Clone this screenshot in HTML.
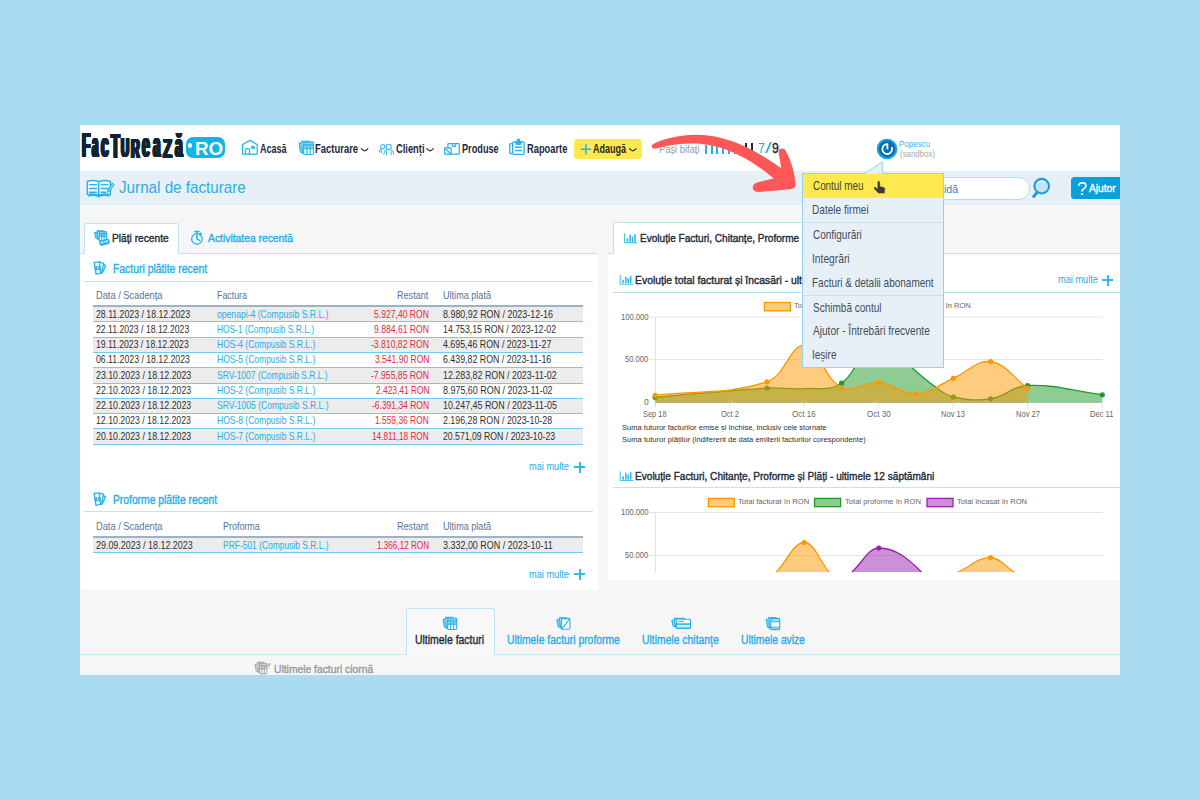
<!DOCTYPE html>
<html lang="ro"><head><meta charset="utf-8"><title>Facturează.ro - Jurnal de facturare</title>
<style>
html,body{margin:0;padding:0}
body{width:1200px;height:800px;background:#a9dcf1;overflow:hidden;position:relative;font-family:"Liberation Sans",sans-serif}
.app{position:absolute;left:80px;top:125px;width:1040px;height:550px;background:#f6f6f6;overflow:hidden}
.app div,.app span,.app svg,.app section,.app header,.app footer,.app nav,.app ul,.app li,.app a{position:absolute;box-sizing:border-box;margin:0;padding:0;list-style:none}
.app span,.ov span{white-space:nowrap;transform-origin:0 0;display:block;position:absolute}
svg{overflow:visible}
.m{-webkit-text-stroke:0.38px currentColor}
.ov{position:absolute;left:0;top:0;width:1200px;height:800px;pointer-events:none}
</style></head>
<body>
<div class="app">
<header style="left:0;top:0;width:0;height:0">
<div class="topbar" style="left:0.00px;top:0.00px;width:1040.00px;height:46.30px;background:#fff"></div>
<div style="left:0.00px;top:0.00px;width:1040.00px;height:1.00px;background:#fdf9d8"></div>
<div style="left:0.00px;top:46.30px;width:1040.00px;height:33.70px;background:#e8f0f7"></div>
<span style="left:179.57px;top:17.70px;font-size:12.0px;line-height:12.0px;font-weight:bold;color:#1c2b39;transform:scaleX(0.7523)">Acasă</span>
<span style="left:235.19px;top:17.70px;font-size:12.0px;line-height:12.0px;font-weight:bold;color:#1c2b39;transform:scaleX(0.7882)">Facturare</span>
<span style="left:315.93px;top:17.70px;font-size:12.0px;line-height:12.0px;font-weight:bold;color:#1c2b39;transform:scaleX(0.7774)">Clienți</span>
<span style="left:381.60px;top:17.70px;font-size:12.0px;line-height:12.0px;font-weight:bold;color:#1c2b39;transform:scaleX(0.7640)">Produse</span>
<span style="left:446.89px;top:17.70px;font-size:12.0px;line-height:12.0px;font-weight:bold;color:#1c2b39;transform:scaleX(0.7766)">Rapoarte</span>
<div style="left:493.70px;top:14.00px;width:68.50px;height:20.00px;background:#ffe94e;border-radius:3px"></div>
<span style="left:513.12px;top:17.70px;font-size:12.0px;line-height:12.0px;font-weight:bold;color:#2a2a1a;transform:scaleX(0.7522)">Adaugă</span>
<span style="left:579.45px;top:18.81px;font-size:10.71px;line-height:10.71px;font-weight:normal;color:#9298a0;transform:scaleX(0.8739)">Pași bifați</span>
<div style="left:624.95px;top:20.10px;width:1.90px;height:8.70px;background:#26afe7"></div>
<div style="left:630.69px;top:20.10px;width:1.90px;height:8.70px;background:#26afe7"></div>
<div style="left:636.43px;top:20.10px;width:1.90px;height:8.70px;background:#26afe7"></div>
<div style="left:642.17px;top:20.10px;width:1.90px;height:8.70px;background:#26afe7"></div>
<div style="left:647.91px;top:20.10px;width:1.90px;height:8.70px;background:#26afe7"></div>
<div style="left:653.65px;top:20.10px;width:1.90px;height:8.70px;background:#26afe7"></div>
<div style="left:659.39px;top:20.10px;width:1.90px;height:8.70px;background:#26afe7"></div>
<div style="left:665.13px;top:17.50px;width:1.90px;height:11.30px;background:#1c2b39"></div>
<div style="left:670.87px;top:17.50px;width:1.90px;height:11.30px;background:#1c2b39"></div>
<span style="left:678.48px;top:16.61px;font-size:13.86px;line-height:13.86px;font-weight:normal;color:#26afe7;transform:scaleX(0.8940)">7</span>
<span style="left:685.10px;top:16.61px;font-size:13.86px;line-height:13.86px;font-weight:normal;color:#26afe7;transform:scaleX(1.7522)">/</span>
<span class="m" style="left:692.05px;top:16.61px;font-size:13.86px;line-height:13.86px;font-weight:normal;color:#1c2b39;transform:scaleX(0.8844)">9</span>
<div style="left:797.00px;top:14.10px;width:19.40px;height:19.40px;border-radius:50%;background:radial-gradient(circle,#0a6fb0 0%,#0f8fd0 55%,#1aa3e0 100%)"></div>
<span style="left:819.36px;top:15.21px;font-size:9.14px;line-height:9.14px;font-weight:normal;color:#3ab5ea;transform:scaleX(0.8763)">Popescu</span>
<span style="left:819.53px;top:24.51px;font-size:9.14px;line-height:9.14px;font-weight:normal;color:#a9a9a9;transform:scaleX(0.8644)">(sandbox)</span>
</header>
<div class="titlebar" style="left:0;top:0;width:0;height:0">
<span style="left:38.77px;top:55.30px;font-size:16.57px;line-height:16.57px;font-weight:normal;color:#26afe7;transform:scaleX(0.9182)">Jurnal de facturare</span>
<div style="left:820.00px;top:52.20px;width:129.70px;height:22.50px;background:#fff;border:1px solid #b5dcf0;border-radius:0 11px 11px 0"></div>
<span style="left:864.02px;top:59.50px;font-size:10.0px;line-height:10.0px;font-weight:normal;color:#1b8ac4;transform:scaleX(1.0445)">idă</span>
<div style="left:990.80px;top:52.10px;width:60.00px;height:22.00px;background:#06a0db;border-radius:3.5px"></div>
<span style="left:997.17px;top:53.51px;font-size:19.14px;line-height:19.14px;font-weight:normal;color:#fff;transform:scaleX(0.9579)">?</span>
<span class="m" style="left:1009.20px;top:59.01px;font-size:10.43px;line-height:10.43px;font-weight:normal;color:#fff;transform:scaleX(0.9812)">Ajutor</span>
</div>
<section class="payments" style="left:0;top:0;width:0;height:0">
<div style="left:0.00px;top:128.30px;width:518.00px;height:336.90px;background:#fff"></div>
<div style="left:0.00px;top:127.80px;width:518.00px;height:1.00px;background:#bfe4f6"></div>
<div style="left:4.40px;top:97.80px;width:94.60px;height:31.00px;background:#fff;border:1px solid #bfe4f6;border-bottom:none;border-radius:3px 3px 0 0"></div>
<span class="m" style="left:31.78px;top:108.01px;font-size:11.0px;line-height:11.0px;font-weight:normal;color:#1c2b39;transform:scaleX(0.9262)">Plăți recente</span>
<span class="m" style="left:128.30px;top:108.01px;font-size:11.0px;line-height:11.0px;font-weight:normal;color:#26afe7;transform:scaleX(0.9389)">Activitatea recentă</span>
<span class="m" style="left:32.77px;top:137.70px;font-size:12.29px;line-height:12.29px;font-weight:normal;color:#26afe7;transform:scaleX(0.8457)">Facturi plătite recent</span>
<div style="left:4.40px;top:155.50px;width:508.20px;height:1.00px;background:#bfe4f6"></div>
<span style="left:15.86px;top:165.20px;font-size:10.71px;line-height:10.71px;font-weight:normal;color:#54749b;transform:scaleX(0.8659)">Data / Scadența</span>
<span style="left:137.00px;top:165.20px;font-size:10.71px;line-height:10.71px;font-weight:normal;color:#54749b;transform:scaleX(0.8227)">Factura</span>
<span style="left:317.17px;top:165.20px;font-size:10.71px;line-height:10.71px;font-weight:normal;color:#54749b;transform:scaleX(0.8495)">Restant</span>
<span style="left:362.52px;top:165.20px;font-size:10.71px;line-height:10.71px;font-weight:normal;color:#54749b;transform:scaleX(0.8497)">Ultima plată</span>
<div style="left:13.30px;top:180.20px;width:489.40px;height:1.60px;background:#9db2c9"></div>
<div style="left:13.30px;top:181.70px;width:489.40px;height:15.28px;background:#ececec"></div>
<span style="left:16.16px;top:183.51px;font-size:11.0px;line-height:11.0px;font-weight:normal;color:#2f2f2f;transform:scaleX(0.7935)">28.11.2023 / 18.12.2023</span>
<span style="left:137.36px;top:183.51px;font-size:11.0px;line-height:11.0px;font-weight:normal;color:#26afe7;transform:scaleX(0.7823)">openapi-4 (Compusib S.R.L.)</span>
<span style="left:294.26px;top:183.51px;font-size:11.0px;line-height:11.0px;font-weight:normal;color:#e5283c;transform:scaleX(0.7808)">5.927,40 RON</span>
<span style="left:362.84px;top:183.51px;font-size:11.0px;line-height:11.0px;font-weight:normal;color:#2f2f2f;transform:scaleX(0.8105)">8.980,92 RON / 2023-12-16</span>
<span style="left:16.17px;top:198.79px;font-size:11.0px;line-height:11.0px;font-weight:normal;color:#2f2f2f;transform:scaleX(0.7867)">22.11.2023 / 18.12.2023</span>
<span style="left:137.03px;top:198.79px;font-size:11.0px;line-height:11.0px;font-weight:normal;color:#26afe7;transform:scaleX(0.7626)">HOS-1 (Compusib S.R.L.)</span>
<span style="left:294.21px;top:198.79px;font-size:11.0px;line-height:11.0px;font-weight:normal;color:#e5283c;transform:scaleX(0.7814)">9.884,61 RON</span>
<span style="left:362.54px;top:198.79px;font-size:11.0px;line-height:11.0px;font-weight:normal;color:#2f2f2f;transform:scaleX(0.7969)">14.753,15 RON / 2023-12-02</span>
<div style="left:13.30px;top:212.26px;width:489.40px;height:15.28px;background:#ececec"></div>
<span style="left:15.95px;top:214.07px;font-size:11.0px;line-height:11.0px;font-weight:normal;color:#2f2f2f;transform:scaleX(0.7825)">19.11.2023 / 18.12.2023</span>
<span style="left:137.02px;top:214.07px;font-size:11.0px;line-height:11.0px;font-weight:normal;color:#26afe7;transform:scaleX(0.7729)">HOS-4 (Compusib S.R.L.)</span>
<span style="left:291.15px;top:214.07px;font-size:11.0px;line-height:11.0px;font-weight:normal;color:#e5283c;transform:scaleX(0.7841)">-3.810,82 RON</span>
<span style="left:363.02px;top:214.07px;font-size:11.0px;line-height:11.0px;font-weight:normal;color:#2f2f2f;transform:scaleX(0.8032)">4.695,46 RON / 2023-11-27</span>
<span style="left:16.29px;top:229.35px;font-size:11.0px;line-height:11.0px;font-weight:normal;color:#2f2f2f;transform:scaleX(0.7924)">06.11.2023 / 18.12.2023</span>
<span style="left:137.02px;top:229.35px;font-size:11.0px;line-height:11.0px;font-weight:normal;color:#26afe7;transform:scaleX(0.7729)">HOS-5 (Compusib S.R.L.)</span>
<span style="left:294.70px;top:229.35px;font-size:11.0px;line-height:11.0px;font-weight:normal;color:#e5283c;transform:scaleX(0.7744)">3.541,90 RON</span>
<span style="left:362.76px;top:229.35px;font-size:11.0px;line-height:11.0px;font-weight:normal;color:#2f2f2f;transform:scaleX(0.8019)">6.439,82 RON / 2023-11-16</span>
<div style="left:13.30px;top:242.82px;width:489.40px;height:15.28px;background:#ececec"></div>
<span style="left:16.16px;top:244.62px;font-size:11.0px;line-height:11.0px;font-weight:normal;color:#2f2f2f;transform:scaleX(0.7982)">23.10.2023 / 18.12.2023</span>
<span style="left:137.32px;top:244.62px;font-size:11.0px;line-height:11.0px;font-weight:normal;color:#26afe7;transform:scaleX(0.7714)">SRV-1007 (Compusib S.R.L.)</span>
<span style="left:291.15px;top:244.62px;font-size:11.0px;line-height:11.0px;font-weight:normal;color:#e5283c;transform:scaleX(0.7841)">-7.955,85 RON</span>
<span style="left:362.54px;top:244.62px;font-size:11.0px;line-height:11.0px;font-weight:normal;color:#2f2f2f;transform:scaleX(0.8059)">12.283,82 RON / 2023-11-02</span>
<span style="left:16.16px;top:259.90px;font-size:11.0px;line-height:11.0px;font-weight:normal;color:#2f2f2f;transform:scaleX(0.7982)">22.10.2023 / 18.12.2023</span>
<span style="left:137.02px;top:259.90px;font-size:11.0px;line-height:11.0px;font-weight:normal;color:#26afe7;transform:scaleX(0.7729)">HOS-2 (Compusib S.R.L.)</span>
<span style="left:295.58px;top:259.90px;font-size:11.0px;line-height:11.0px;font-weight:normal;color:#e5283c;transform:scaleX(0.7618)">2.423,41 RON</span>
<span style="left:362.84px;top:259.90px;font-size:11.0px;line-height:11.0px;font-weight:normal;color:#2f2f2f;transform:scaleX(0.8120)">8.975,60 RON / 2023-11-02</span>
<div style="left:13.30px;top:273.38px;width:489.40px;height:15.28px;background:#ececec"></div>
<span style="left:16.16px;top:275.18px;font-size:11.0px;line-height:11.0px;font-weight:normal;color:#2f2f2f;transform:scaleX(0.7982)">22.10.2023 / 18.12.2023</span>
<span style="left:137.32px;top:275.18px;font-size:11.0px;line-height:11.0px;font-weight:normal;color:#26afe7;transform:scaleX(0.7770)">SRV-1005 (Compusib S.R.L.)</span>
<span style="left:292.16px;top:275.18px;font-size:11.0px;line-height:11.0px;font-weight:normal;color:#e5283c;transform:scaleX(0.7704)">-6.391,34 RON</span>
<span style="left:362.53px;top:275.18px;font-size:11.0px;line-height:11.0px;font-weight:normal;color:#2f2f2f;transform:scaleX(0.8070)">10.247,45 RON / 2023-11-05</span>
<span style="left:15.94px;top:290.46px;font-size:11.0px;line-height:11.0px;font-weight:normal;color:#2f2f2f;transform:scaleX(0.7958)">12.10.2023 / 18.12.2023</span>
<span style="left:137.02px;top:290.46px;font-size:11.0px;line-height:11.0px;font-weight:normal;color:#26afe7;transform:scaleX(0.7729)">HOS-8 (Compusib S.R.L.)</span>
<span style="left:295.37px;top:290.46px;font-size:11.0px;line-height:11.0px;font-weight:normal;color:#e5283c;transform:scaleX(0.7648)">1.559,36 RON</span>
<span style="left:362.76px;top:290.46px;font-size:11.0px;line-height:11.0px;font-weight:normal;color:#2f2f2f;transform:scaleX(0.8037)">2.196,28 RON / 2023-10-28</span>
<div style="left:13.30px;top:303.94px;width:489.40px;height:15.28px;background:#ececec"></div>
<span style="left:16.16px;top:305.75px;font-size:11.0px;line-height:11.0px;font-weight:normal;color:#2f2f2f;transform:scaleX(0.7982)">20.10.2023 / 18.12.2023</span>
<span style="left:137.02px;top:305.75px;font-size:11.0px;line-height:11.0px;font-weight:normal;color:#26afe7;transform:scaleX(0.7729)">HOS-7 (Compusib S.R.L.)</span>
<span style="left:292.38px;top:305.75px;font-size:11.0px;line-height:11.0px;font-weight:normal;color:#e5283c;transform:scaleX(0.7505)">14.811,18 RON</span>
<span style="left:362.77px;top:305.75px;font-size:11.0px;line-height:11.0px;font-weight:normal;color:#2f2f2f;transform:scaleX(0.7901)">20.571,09 RON / 2023-10-23</span>
<div style="left:13.30px;top:196.48px;width:489.40px;height:1.00px;background:#72cbef"></div>
<div style="left:13.30px;top:211.76px;width:489.40px;height:1.00px;background:#72cbef"></div>
<div style="left:13.30px;top:227.04px;width:489.40px;height:1.00px;background:#72cbef"></div>
<div style="left:13.30px;top:242.32px;width:489.40px;height:1.00px;background:#72cbef"></div>
<div style="left:13.30px;top:257.60px;width:489.40px;height:1.00px;background:#72cbef"></div>
<div style="left:13.30px;top:272.88px;width:489.40px;height:1.00px;background:#72cbef"></div>
<div style="left:13.30px;top:288.16px;width:489.40px;height:1.00px;background:#72cbef"></div>
<div style="left:13.30px;top:303.44px;width:489.40px;height:1.00px;background:#72cbef"></div>
<div style="left:13.30px;top:318.72px;width:489.40px;height:1.00px;background:#72cbef"></div>
<span style="left:448.80px;top:337.30px;font-size:10.0px;line-height:10.0px;font-weight:normal;color:#26afe7;transform:scaleX(0.9224)">mai multe</span>
<div style="left:494.00px;top:341.00px;width:11.00px;height:2.00px;background:#26afe7;opacity:.9"></div>
<div style="left:498.50px;top:336.50px;width:2.00px;height:11.00px;background:#26afe7;opacity:.9"></div>
<span class="m" style="left:32.78px;top:368.92px;font-size:12.29px;line-height:12.29px;font-weight:normal;color:#26afe7;transform:scaleX(0.8386)">Proforme plătite recent</span>
<div style="left:4.40px;top:386.00px;width:508.20px;height:1.00px;background:#bfe4f6"></div>
<span style="left:15.86px;top:396.40px;font-size:10.71px;line-height:10.71px;font-weight:normal;color:#54749b;transform:scaleX(0.8659)">Data / Scadența</span>
<span style="left:142.98px;top:396.40px;font-size:10.71px;line-height:10.71px;font-weight:normal;color:#54749b;transform:scaleX(0.8351)">Proforma</span>
<span style="left:317.17px;top:396.40px;font-size:10.71px;line-height:10.71px;font-weight:normal;color:#54749b;transform:scaleX(0.8495)">Restant</span>
<span style="left:362.52px;top:396.40px;font-size:10.71px;line-height:10.71px;font-weight:normal;color:#54749b;transform:scaleX(0.8497)">Ultima plată</span>
<div style="left:13.30px;top:411.10px;width:489.40px;height:1.60px;background:#9db2c9"></div>
<div style="left:13.30px;top:412.60px;width:489.40px;height:15.28px;background:#ececec"></div>
<span style="left:16.15px;top:414.81px;font-size:11.0px;line-height:11.0px;font-weight:normal;color:#2f2f2f;transform:scaleX(0.8108)">29.09.2023 / 18.12.2023</span>
<span style="left:143.02px;top:414.81px;font-size:11.0px;line-height:11.0px;font-weight:normal;color:#26afe7;transform:scaleX(0.7675)">PRF-501 (Compusib S.R.L.)</span>
<span style="left:297.09px;top:414.81px;font-size:11.0px;line-height:11.0px;font-weight:normal;color:#e5283c;transform:scaleX(0.7400)">1.366,12 RON</span>
<span style="left:362.89px;top:414.81px;font-size:11.0px;line-height:11.0px;font-weight:normal;color:#2f2f2f;transform:scaleX(0.8139)">3.332,00 RON / 2023-10-11</span>
<div style="left:13.30px;top:427.38px;width:489.40px;height:1.00px;background:#72cbef"></div>
<span style="left:448.80px;top:444.71px;font-size:10.0px;line-height:10.0px;font-weight:normal;color:#26afe7;transform:scaleX(0.9224)">mai multe</span>
<div style="left:494.00px;top:448.00px;width:11.00px;height:2.00px;background:#26afe7;opacity:.9"></div>
<div style="left:498.50px;top:443.50px;width:2.00px;height:11.00px;background:#26afe7;opacity:.9"></div>
</section>
<section class="charts" style="left:0;top:0;width:0;height:0">
<div style="left:527.50px;top:128.30px;width:512.50px;height:326.40px;background:#fff"></div>
<div style="left:527.50px;top:127.80px;width:512.50px;height:1.00px;background:#bfe4f6"></div>
<div style="left:533.30px;top:97.30px;width:322.00px;height:31.50px;background:#fff;border:1px solid #bfe4f6;border-bottom:none;border-radius:3px 3px 0 0"></div>
<span class="m" style="left:559.80px;top:108.01px;font-size:11.0px;line-height:11.0px;font-weight:normal;color:#1c2b39;transform:scaleX(0.9132)">Evoluție Facturi, Chitanțe, Proforme</span>
<span class="m" style="left:555.37px;top:149.81px;font-size:11.0px;line-height:11.0px;font-weight:normal;color:#1c2b39;transform:scaleX(0.9450)">Evoluție total facturat și încasări - ult</span>
<div style="left:533.30px;top:166.70px;width:506.70px;height:1.00px;background:#bfe4f6"></div>
<span class="m" style="left:555.39px;top:346.10px;font-size:11.0px;line-height:11.0px;font-weight:normal;color:#1c2b39;transform:scaleX(0.9167)">Evoluție Facturi, Chitanțe, Proforme și Plăți - ultimele 12 săptămâni</span>
<div style="left:533.30px;top:362.00px;width:506.70px;height:1.00px;background:#bfe4f6"></div>
</section>
<footer class="doc-tabs" style="left:0;top:0;width:0;height:0">
<div style="left:0.00px;top:528.70px;width:1040.00px;height:1.60px;background:#c6e5f5"></div>
<div style="left:325.50px;top:482.50px;width:89.00px;height:47.50px;background:#f8f8f8;border:1px solid #bfe4f6;border-bottom:none;border-radius:3px 3px 0 0"></div>
<span class="m" style="left:335.42px;top:508.81px;font-size:12.14px;line-height:12.14px;font-weight:normal;color:#1c2b39;transform:scaleX(0.8618)">Ultimele facturi</span>
<span class="m" style="left:426.72px;top:508.81px;font-size:12.14px;line-height:12.14px;font-weight:normal;color:#26afe7;transform:scaleX(0.8546)">Ultimele facturi proforme</span>
<span class="m" style="left:562.02px;top:508.81px;font-size:12.14px;line-height:12.14px;font-weight:normal;color:#26afe7;transform:scaleX(0.8559)">Ultimele chitanțe</span>
<span class="m" style="left:660.53px;top:508.81px;font-size:12.14px;line-height:12.14px;font-weight:normal;color:#26afe7;transform:scaleX(0.8456)">Ultimele avize</span>
<span class="m" style="left:194.23px;top:538.50px;font-size:10.86px;line-height:10.86px;font-weight:normal;color:#9a9a9a;transform:scaleX(0.9495)">Ultimele facturi ciornă</span>
</footer>
<div class="brand" style="left:0;top:0;width:0;height:0">
<a class="logo" style="left:0;top:0;width:150px;height:46px"><span style="left:2.38px;top:3.36px;font-size:34.29px;line-height:34.29px;font-weight:bold;color:#0f2433;text-shadow:0.57px 0 0 #0f2433,-0.57px 0 0 #0f2433,1.13px 0 0 #0f2433,-1.13px 0 0 #0f2433,1.70px 0 0 #0f2433,-1.70px 0 0 #0f2433,2.26px 0 0 #0f2433,-2.26px 0 0 #0f2433;transform:scaleX(0.3982)">F</span><span style="left:12.27px;top:3.36px;font-size:35.45px;line-height:35.45px;font-weight:bold;color:#0f2433;text-shadow:0.71px 0 0 #0f2433,-0.71px 0 0 #0f2433,1.42px 0 0 #0f2433,-1.42px 0 0 #0f2433,2.12px 0 0 #0f2433,-2.12px 0 0 #0f2433,2.83px 0 0 #0f2433,-2.83px 0 0 #0f2433;transform:scaleX(0.3180)">a</span><span style="left:21.39px;top:3.36px;font-size:35.45px;line-height:35.45px;font-weight:bold;color:#0f2433;text-shadow:0.58px 0 0 #0f2433,-0.58px 0 0 #0f2433,1.16px 0 0 #0f2433,-1.16px 0 0 #0f2433,1.73px 0 0 #0f2433,-1.73px 0 0 #0f2433,2.31px 0 0 #0f2433,-2.31px 0 0 #0f2433;transform:scaleX(0.3893)">c</span><span style="left:30.96px;top:3.71px;font-size:34.29px;line-height:34.29px;font-weight:bold;color:#0f2433;text-shadow:0.54px 0 0 #0f2433,-0.54px 0 0 #0f2433,1.08px 0 0 #0f2433,-1.08px 0 0 #0f2433,1.61px 0 0 #0f2433,-1.61px 0 0 #0f2433,2.15px 0 0 #0f2433,-2.15px 0 0 #0f2433;transform:scaleX(0.4180)">T</span><span style="left:40.83px;top:9.43px;font-size:27.86px;line-height:27.86px;font-weight:bold;color:#0f2433;text-shadow:0.56px 0 0 #0f2433,-0.56px 0 0 #0f2433,1.12px 0 0 #0f2433,-1.12px 0 0 #0f2433,1.69px 0 0 #0f2433,-1.69px 0 0 #0f2433,2.25px 0 0 #0f2433,-2.25px 0 0 #0f2433;transform:scaleX(0.4001)">U</span><span style="left:51.07px;top:8.71px;font-size:28.26px;line-height:28.26px;font-weight:bold;color:#0f2433;text-shadow:0.52px 0 0 #0f2433,-0.52px 0 0 #0f2433,1.05px 0 0 #0f2433,-1.05px 0 0 #0f2433,1.57px 0 0 #0f2433,-1.57px 0 0 #0f2433,2.09px 0 0 #0f2433,-2.09px 0 0 #0f2433;transform:scaleX(0.4301)">R</span><span style="left:62.38px;top:3.36px;font-size:35.45px;line-height:35.45px;font-weight:bold;color:#0f2433;text-shadow:0.57px 0 0 #0f2433,-0.57px 0 0 #0f2433,1.14px 0 0 #0f2433,-1.14px 0 0 #0f2433,1.71px 0 0 #0f2433,-1.71px 0 0 #0f2433,2.28px 0 0 #0f2433,-2.28px 0 0 #0f2433;transform:scaleX(0.3949)">e</span><span style="left:72.53px;top:3.36px;font-size:35.45px;line-height:35.45px;font-weight:bold;color:#0f2433;text-shadow:0.60px 0 0 #0f2433,-0.60px 0 0 #0f2433,1.20px 0 0 #0f2433,-1.20px 0 0 #0f2433,1.80px 0 0 #0f2433,-1.80px 0 0 #0f2433,2.40px 0 0 #0f2433,-2.40px 0 0 #0f2433;transform:scaleX(0.3744)">a</span><span style="left:83.01px;top:8.71px;font-size:28.26px;line-height:28.26px;font-weight:bold;color:#0f2433;text-shadow:0.43px 0 0 #0f2433,-0.43px 0 0 #0f2433,0.86px 0 0 #0f2433,-0.86px 0 0 #0f2433,1.29px 0 0 #0f2433,-1.29px 0 0 #0f2433,1.73px 0 0 #0f2433,-1.73px 0 0 #0f2433;transform:scaleX(0.5215)">Z</span><span style="left:94.63px;top:5.38px;font-size:32.4px;line-height:32.4px;font-weight:bold;color:#0f2433;text-shadow:0.53px 0 0 #0f2433,-0.53px 0 0 #0f2433,1.07px 0 0 #0f2433,-1.07px 0 0 #0f2433,1.60px 0 0 #0f2433,-1.60px 0 0 #0f2433,2.14px 0 0 #0f2433,-2.14px 0 0 #0f2433;transform:scaleX(0.4209)">ă</span></a>
<div style="left:106.00px;top:12.30px;width:39.00px;height:20.70px;background:#12b5ea;border-radius:7px"></div>
<div style="left:108.10px;top:18.30px;width:4.40px;height:4.40px;background:#fff;border-radius:50%"></div>
<span style="left:114.58px;top:15.00px;font-size:18.14px;line-height:18.14px;font-weight:bold;color:#fff;transform:scaleX(1.0337)">RO</span>
</div>
<section class="chart-canvas" style="left:0;top:0;width:0;height:0">
<svg style="left:-80px;top:-125px;width:1200px;height:800px" viewBox="0 0 1200 800"><path d="M655.5,317H1102.5M655.5,359.5H1102.5" stroke="#e6e6e6" stroke-width="1" fill="none"/><path d="M655.5,317V407.5" stroke="#e2e2e2" stroke-width="1" fill="none"/><path d="M648.5,317H655.5M648.5,359.5H655.5" stroke="#e6e6e6" stroke-width="1" fill="none"/><path d="M655.5,402.5H1102.5" stroke="#d0d0d0" stroke-width="1" fill="none"/><path d="M655.2,402.5V407.5" stroke="#dcdcdc" stroke-width="1" fill="none"/><path d="M729.7,402.5V407.5" stroke="#dcdcdc" stroke-width="1" fill="none"/><path d="M804.2,402.5V407.5" stroke="#dcdcdc" stroke-width="1" fill="none"/><path d="M878.7,402.5V407.5" stroke="#dcdcdc" stroke-width="1" fill="none"/><path d="M953.2,402.5V407.5" stroke="#dcdcdc" stroke-width="1" fill="none"/><path d="M1027.7,402.5V407.5" stroke="#dcdcdc" stroke-width="1" fill="none"/><path d="M1102.2,402.5V407.5" stroke="#dcdcdc" stroke-width="1" fill="none"/><path d="M655.2,397.3 C699.9,393.6 722.2,390.7 767.0,388.1 C781.8,387.2 789.4,389.6 804.2,388.6 C819.2,387.6 830.2,391.5 841.5,383.2 C860.0,369.6 862.8,337.7 878.8,334.0 C890.8,331.2 897.8,354.4 911.3,367.0 C920.8,375.8 925.8,380.1 936.3,387.6 C942.6,392.1 945.9,395.5 953.3,397.0 C967.6,399.9 976.2,401.0 990.7,398.8 C1005.9,396.4 1012.3,386.0 1027.6,385.5 C1056.9,384.4 1072.4,391.1 1102.3,394.8 L1102.3,402.5 L655.2,402.5 Z" fill="#1f9a2a" fill-opacity="0.5" stroke="none"/><path d="M655.2,397.3 C699.9,393.6 722.2,390.7 767.0,388.1 C781.8,387.2 789.4,389.6 804.2,388.6 C819.2,387.6 830.2,391.5 841.5,383.2 C860.0,369.6 862.8,337.7 878.8,334.0 C890.8,331.2 897.8,354.4 911.3,367.0 C920.8,375.8 925.8,380.1 936.3,387.6 C942.6,392.1 945.9,395.5 953.3,397.0 C967.6,399.9 976.2,401.0 990.7,398.8 C1005.9,396.4 1012.3,386.0 1027.6,385.5 C1056.9,384.4 1072.4,391.1 1102.3,394.8" fill="none" stroke="#1f9a2a" stroke-width="1.3"/><circle cx="655.2" cy="397.3" r="2.6" fill="#1f9a2a"/><circle cx="767.0" cy="388.1" r="2.6" fill="#1f9a2a"/><circle cx="841.5" cy="383.2" r="2.6" fill="#1f9a2a"/><circle cx="878.8" cy="334.0" r="2.6" fill="#1f9a2a"/><circle cx="953.3" cy="397.0" r="2.6" fill="#1f9a2a"/><circle cx="990.7" cy="398.8" r="2.6" fill="#1f9a2a"/><circle cx="1027.6" cy="385.5" r="2.6" fill="#1f9a2a"/><circle cx="1102.3" cy="394.8" r="2.6" fill="#1f9a2a"/><path d="M655.2,395.3 C699.9,389.9 726.2,395.4 767.0,381.8 C785.8,375.5 789.9,344.4 804.2,345.5 C819.7,346.7 823.6,378.7 841.5,387.5 C853.5,393.4 864.1,381.2 878.8,382.4 C894.0,383.7 901.5,394.6 916.2,393.8 C931.3,393.0 938.5,384.7 953.3,378.3 C968.3,371.8 976.6,359.8 990.7,361.7 C1006.3,363.8 1012.8,377.6 1027.6,388.2 L1027.6,402.5 L655.2,402.5 Z" fill="#ff9800" fill-opacity="0.5" stroke="none"/><path d="M655.2,395.3 C699.9,389.9 726.2,395.4 767.0,381.8 C785.8,375.5 789.9,344.4 804.2,345.5 C819.7,346.7 823.6,378.7 841.5,387.5 C853.5,393.4 864.1,381.2 878.8,382.4 C894.0,383.7 901.5,394.6 916.2,393.8 C931.3,393.0 938.5,384.7 953.3,378.3 C968.3,371.8 976.6,359.8 990.7,361.7 C1006.3,363.8 1012.8,377.6 1027.6,388.2" fill="none" stroke="#ff9800" stroke-width="1.3"/><circle cx="655.2" cy="395.3" r="2.6" fill="#ff9800"/><circle cx="767.0" cy="381.8" r="2.6" fill="#ff9800"/><circle cx="804.2" cy="345.5" r="2.6" fill="#ff9800"/><circle cx="841.5" cy="387.5" r="2.6" fill="#ff9800"/><circle cx="878.8" cy="382.4" r="2.6" fill="#ff9800"/><circle cx="916.2" cy="393.8" r="2.6" fill="#ff9800"/><circle cx="953.3" cy="378.3" r="2.6" fill="#ff9800"/><circle cx="990.7" cy="361.7" r="2.6" fill="#ff9800"/><circle cx="1027.6" cy="388.2" r="2.6" fill="#ff9800"/></svg>
<svg style="left:-80px;top:-125px;width:1200px;height:800px" viewBox="0 0 1200 800"><rect x="764.4" y="302.5" width="26" height="8.3" fill="#ff9800" fill-opacity="0.5" stroke="#ff9800" stroke-width="1.3"/><rect x="870.7" y="302.5" width="26" height="8.3" fill="#1f9a2a" fill-opacity="0.5" stroke="#1f9a2a" stroke-width="1.3"/></svg>
<span style="left:714.05px;top:177.41px;font-size:8.0px;line-height:8.0px;font-weight:normal;color:#666666;transform:scaleX(0.9375)">Total facturat în RON</span>
<span style="left:820.75px;top:177.41px;font-size:8.0px;line-height:8.0px;font-weight:normal;color:#666666;transform:scaleX(0.9462)">Total încasat în RON</span>
<span style="left:540.93px;top:188.91px;font-size:8.14px;line-height:8.14px;font-weight:normal;color:#666666;transform:scaleX(0.9397)">100.000</span>
<span style="left:545.30px;top:231.41px;font-size:8.14px;line-height:8.14px;font-weight:normal;color:#666666;transform:scaleX(0.9350)">50.000</span>
<span style="left:563.90px;top:274.41px;font-size:8.14px;line-height:8.14px;font-weight:normal;color:#666666;transform:scaleX(1.0385)">0</span>
<span style="left:563.36px;top:284.92px;font-size:8.43px;line-height:8.43px;font-weight:normal;color:#666666;transform:scaleX(0.8849)">Sep 18</span>
<span style="left:640.71px;top:284.92px;font-size:8.43px;line-height:8.43px;font-weight:normal;color:#666666;transform:scaleX(0.8928)">Oct 2</span>
<span style="left:712.34px;top:284.92px;font-size:8.43px;line-height:8.43px;font-weight:normal;color:#666666;transform:scaleX(0.9541)">Oct 16</span>
<span style="left:786.84px;top:284.92px;font-size:8.43px;line-height:8.43px;font-weight:normal;color:#666666;transform:scaleX(0.9524)">Oct 30</span>
<span style="left:861.10px;top:284.92px;font-size:8.43px;line-height:8.43px;font-weight:normal;color:#666666;transform:scaleX(0.8953)">Nov 13</span>
<span style="left:935.60px;top:284.92px;font-size:8.43px;line-height:8.43px;font-weight:normal;color:#666666;transform:scaleX(0.8968)">Nov 27</span>
<span style="left:1010.19px;top:284.92px;font-size:8.43px;line-height:8.43px;font-weight:normal;color:#666666;transform:scaleX(0.8992)">Dec 11</span>
<span style="left:541.56px;top:298.51px;font-size:7.71px;line-height:7.71px;font-weight:normal;color:#2f2f2f;transform:scaleX(0.9791)">Suma tuturor facturilor emise și închise, inclusiv cele stornate</span>
<span style="left:541.56px;top:311.01px;font-size:7.71px;line-height:7.71px;font-weight:normal;color:#2f2f2f;transform:scaleX(0.9829)">Suma tuturor plăților (indiferent de data emiterii facturilor corespondente)</span>
<svg style="left:-80px;top:-125px;width:1200px;height:800px" viewBox="0 0 1200 800"><path d="M655.5,512.5H1102.5M655.5,555.5H1102.5" stroke="#e6e6e6" stroke-width="1" fill="none"/><path d="M655.5,512.5V572" stroke="#e2e2e2" stroke-width="1" fill="none"/><path d="M648.5,512.5H655.5M648.5,555.5H655.5" stroke="#e6e6e6" stroke-width="1" fill="none"/><path d="M776.3,572 C786.4,562.6 793.1,542.5 804.3,542.5 C814.3,542.5 820.3,562.6 829.3,572 Z" fill="#ff9800" fill-opacity="0.5"/><path d="M776.3,572 C786.4,562.6 793.1,542.5 804.3,542.5 C814.3,542.5 820.3,562.6 829.3,572" fill="none" stroke="#ff9800" stroke-width="1.3"/><circle cx="804.3" cy="542.5" r="2.6" fill="#ff9800"/><path d="M957.8,572 C969.6,567.4 977.4,557.5 990.5,557.5 C1000.0,557.5 1005.7,567.4 1014.3,572 Z" fill="#ff9800" fill-opacity="0.5"/><path d="M957.8,572 C969.6,567.4 977.4,557.5 990.5,557.5 C1000.0,557.5 1005.7,567.4 1014.3,572" fill="none" stroke="#ff9800" stroke-width="1.3"/><circle cx="990.5" cy="557.5" r="2.6" fill="#ff9800"/><path d="M851.8,572 C861.5,564.3 868.0,548 878.8,548 C898.0,548 910.8,561.9 921.5,572 Z" fill="#9c1fb0" fill-opacity="0.5"/><path d="M851.8,572 C861.5,564.3 868.0,548 878.8,548 C898.0,548 910.8,561.9 921.5,572" fill="none" stroke="#9c1fb0" stroke-width="1.3"/><circle cx="878.8" cy="548" r="2.6" fill="#9c1fb0"/><rect x="708.4" y="498.4" width="26" height="8.3" fill="#ff9800" fill-opacity="0.5" stroke="#ff9800" stroke-width="1.3"/><rect x="814.6" y="498.4" width="26" height="8.3" fill="#1f9a2a" fill-opacity="0.5" stroke="#1f9a2a" stroke-width="1.3"/><rect x="927" y="498.4" width="26" height="8.3" fill="#9c1fb0" fill-opacity="0.5" stroke="#9c1fb0" stroke-width="1.3"/></svg>
<span style="left:658.15px;top:373.21px;font-size:8.0px;line-height:8.0px;font-weight:normal;color:#666666;transform:scaleX(0.9538)">Total facturat în RON</span>
<span style="left:764.85px;top:373.21px;font-size:8.0px;line-height:8.0px;font-weight:normal;color:#666666;transform:scaleX(0.9489)">Total proforme în RON</span>
<span style="left:876.75px;top:373.21px;font-size:8.0px;line-height:8.0px;font-weight:normal;color:#666666;transform:scaleX(0.9489)">Total încasat în RON</span>
<span style="left:540.93px;top:384.41px;font-size:8.14px;line-height:8.14px;font-weight:normal;color:#666666;transform:scaleX(0.9397)">100.000</span>
<span style="left:545.30px;top:427.41px;font-size:8.14px;line-height:8.14px;font-weight:normal;color:#666666;transform:scaleX(0.9350)">50.000</span>
<span style="left:977.90px;top:150.41px;font-size:10.0px;line-height:10.0px;font-weight:normal;color:#26afe7;transform:scaleX(0.9224)">mai multe</span>
<div style="left:1022.00px;top:154.00px;width:11.00px;height:2.00px;background:#26afe7;opacity:.9"></div>
<div style="left:1026.50px;top:149.50px;width:2.00px;height:11.00px;background:#26afe7;opacity:.9"></div>
</section>
<div class="icons" style="left:0;top:0;width:0;height:0">
<svg style="left:-80px;top:-125px;width:1200px;height:800px" viewBox="0 0 1200 800" fill="none" stroke-linecap="round" stroke-linejoin="round"><g stroke="#27b4ea" stroke-width="1.25"><path d="M242.6,154.1V144.5L249.8,140.4L257.2,144.5V154.1Z"/><path d="M245.6,154.1V149.7a1,1 0 0 1 1,-1h1.9a1,1 0 0 1 1,1V154.1"/><rect x="251.4" y="146.2" width="3.3" height="2.5" rx="0.6" fill="#27b4ea" stroke-width="0.6"/></g><path d="M301.50,142.70 L299.10,143.40 L300.40,151.90 L303.70,153.30" fill="#27b4ea" fill-opacity="0.53" stroke="#27b4ea" stroke-width="1.1"/><path d="M303.70,142.10 L301.70,141.20 L309.03,141.20 L309.71,142.10" fill="#27b4ea" fill-opacity="0.5800000000000001" stroke="#27b4ea" stroke-width="1.1"/><path d="M301.70,141.20 L302.50,152.90 L303.70,153.90" fill="#27b4ea" fill-opacity="0.28" stroke="#27b4ea" stroke-width="1.1"/><rect x="303.70" y="142.10" width="9.70" height="12.40" rx="0.9" fill="#fff" stroke="#27b4ea" stroke-width="1.1"/><rect x="303.70" y="142.10" width="9.70" height="6.70" fill="#27b4ea" fill-opacity="0.55" stroke="none"/><path d="M303.70,148.80H313.40M306.90,144.83V154.50M310.10,144.83V154.50M303.70,144.83H313.40" stroke="#27b4ea" stroke-width="1.1"/><g stroke="#3bbcee" stroke-width="1.05"><circle cx="382.8" cy="146.5" r="2.1"/><path d="M379.4,151.9C379.4,150 380.4,149.1 381.8,148.9M381.5,150.6V152.8"/><circle cx="388.7" cy="146.9" r="2.55"/><path d="M383.8,154.2C384.2,150.8 386,149.5 388.7,149.5C391.4,149.5 393.3,150.8 393.7,154.2M386.5,151.4V154.6M391.1,151.4V154.6"/></g><g stroke="#27b4ea" stroke-width="1.25"><rect x="447.9" y="143.6" width="11.4" height="10.6" rx="0.7"/><path d="M452.4,143.6V146.4H455.4V143.6"/><rect x="444.7" y="147.9" width="6.4" height="6.3" rx="0.5" fill="#fff"/><path d="M444.9,148.1L450.9,154"/></g><g stroke="#27b4ea" stroke-width="1.35"><rect x="509.7" y="143.6" width="3" height="9.9" rx="1.2"/><rect x="512.7" y="141.8" width="11.4" height="12.5" rx="1.3" fill="#fff"/><path d="M515.4,141.8L516.4,144.3H520.6L521.6,141.8Z" fill="#27b4ea"/><circle cx="518.5" cy="140.2" r="1.1" fill="#27b4ea"/><path d="M515.5,147.2H521.5M515.5,150.5H521.5"/></g><path d="M580.7,149.2H591.3M586,143.9V154.5" stroke="#27b4ea" stroke-width="1.5" stroke-linecap="butt"/><path d="M361.3,148.7 Q363.4,150.9 364.6,150.9 Q365.8,150.9 367.9,148.7" stroke="#1c2b39" stroke-width="1.15"/><path d="M426.8,148.7 Q428.9,150.9 430.1,150.9 Q431.3,150.9 433.4,148.7" stroke="#1c2b39" stroke-width="1.15"/><path d="M629.5,148.7 Q631.6,150.9 632.8,150.9 Q634.0,150.9 636.1,148.7" stroke="#1c2b39" stroke-width="1.15"/><circle cx="887.1" cy="149" r="9.3" fill="#0a6db3" stroke="#17a6e2" stroke-width="2"/><path d="M887.2,144.2A4.9,4.9 0 1 0 891.7,147.1" stroke="#fff" stroke-width="1.8" stroke-linecap="butt"/><path d="M887.4,143.4V149.3" stroke="#fff" stroke-width="1.8" stroke-linecap="butt"/><g stroke="#27b4ea" stroke-width="1.45"><path d="M87.3,181.5C90,180.3 95.5,180.2 98.7,181.6C102,180.2 107.6,180.3 110.4,181.5V194.6C107.6,193.7 102,193.7 98.7,195.2C95.5,193.7 90,193.7 87.3,194.6Z" fill="#fff" fill-opacity="0.55"/><path d="M98.7,181.6V195.2M88.6,195.9C91.5,195.2 96,195.3 98.7,196.5C101.4,195.3 106,195.2 109,195.9"/><path d="M89.6,184.6H96.4M89.6,188.4H96.4M89.6,192.2H96.4M101.3,184.6H107.8M101.3,188.4H107.3M101.3,192.2H105.3"/><path d="M108.3,190.9L113.6,183.4" stroke-width="3.2" stroke-linecap="butt"/><path d="M108.5,190.6L113.4,183.7" stroke="#e8f0f7" stroke-width="0.8"/><path d="M107.4,192.1L108.2,190.6" stroke-width="1.6"/></g><circle cx="1041.7" cy="186.2" r="7.3" fill="#c3e3f5" stroke="#18a0da" stroke-width="2.1"/><path d="M1037.6,183.4A5,5 0 0 1 1044.2,182" stroke="#fff" stroke-width="1" opacity="0.9"/><path d="M1036.4,193.3L1033.7,196.4" stroke="#18a0da" stroke-width="3"/><path d="M97.00,232.20 L94.60,232.90 L95.90,238.20 L99.20,239.60" fill="#27b4ea" fill-opacity="0.65" stroke="#27b4ea" stroke-width="1.1"/><path d="M99.20,231.60 L97.20,230.70 L103.27,230.70 L103.79,231.60" fill="#27b4ea" fill-opacity="0.7" stroke="#27b4ea" stroke-width="1.1"/><path d="M97.20,230.70 L98.00,239.20 L99.20,240.20" fill="#27b4ea" fill-opacity="0.4" stroke="#27b4ea" stroke-width="1.1"/><rect x="99.20" y="231.60" width="7.40" height="9.20" rx="0.9" fill="#fff" stroke="#27b4ea" stroke-width="1.1"/><rect x="99.20" y="231.60" width="7.40" height="4.97" fill="#27b4ea" fill-opacity="0.55" stroke="none"/><path d="M99.20,236.57H106.60M101.64,233.62V240.80M104.08,233.62V240.80M99.20,233.62H106.60" stroke="#27b4ea" stroke-width="1.1"/><g transform="rotate(-14 104.5 242.3)"><rect x="99.8" y="240" width="9.4" height="4.6" rx="0.7" fill="#27b4ea" stroke="#27b4ea" stroke-width="0.8"/><rect x="101" y="241.1" width="1.6" height="1.6" fill="#fff" stroke="none"/><rect x="103.7" y="241.1" width="1.3" height="1.3" fill="#fff" stroke="none"/><rect x="106" y="241.1" width="1.8" height="1.8" fill="#fff" stroke="none"/></g><g stroke="#27b4ea" stroke-width="1.35"><circle cx="196.9" cy="238.9" r="5.3"/><path d="M194.8,231.4H199M196.9,231.4V233.4" stroke-width="1.5"/><circle cx="200.5" cy="233.8" r="0.9" fill="#27b4ea" stroke-width="0.8"/><path d="M196.9,235V238.7L199.6,240.5" stroke-width="1.5"/></g><g transform="translate(0,0)" stroke="#27b4ea" stroke-width="1.35"><path d="M102.9,264.1L105.7,265.7L102.4,272.7" /><path d="M100.4,262.3L103.6,263.4L101.6,273.2" fill="#fff"/><path d="M94.2,262.3L99.3,261.8L100.7,273.3L96.1,274.2Z" fill="#fff"/><path d="M95.2,266.9L100,266.4L100.4,269.4L95.7,269.9Z" fill="#27b4ea" stroke-width="0.8"/><rect x="97.1" y="267.4" width="1.5" height="1.5" fill="#fff" stroke="none"/></g><g transform="translate(-0.1,231.1)" stroke="#27b4ea" stroke-width="1.35"><path d="M102.9,264.1L105.7,265.7L102.4,272.7" /><path d="M100.4,262.3L103.6,263.4L101.6,273.2" fill="#fff"/><path d="M94.2,262.3L99.3,261.8L100.7,273.3L96.1,274.2Z" fill="#fff"/><path d="M95.2,266.9L100,266.4L100.4,269.4L95.7,269.9Z" fill="#27b4ea" stroke-width="0.8"/><rect x="97.1" y="267.4" width="1.5" height="1.5" fill="#fff" stroke="none"/></g><g transform="translate(0,0.4)"><path d="M624.5,233.4V242.2H637" stroke="#4cc3f0" stroke-width="1.1"/><path d="M627.4,238.6V240.8M630.1,235.2V240.8M632.5,236.9V240.8M635,234.5V240.8" stroke="#31b7ec" stroke-width="1.6" stroke-linecap="round"/></g><g transform="translate(-4.3,42)"><path d="M624.5,233.4V242.2H637" stroke="#4cc3f0" stroke-width="1.1"/><path d="M627.4,238.6V240.8M630.1,235.2V240.8M632.5,236.9V240.8M635,234.5V240.8" stroke="#31b7ec" stroke-width="1.6" stroke-linecap="round"/></g><g transform="translate(-4.3,238.3)"><path d="M624.5,233.4V242.2H637" stroke="#4cc3f0" stroke-width="1.1"/><path d="M627.4,238.6V240.8M630.1,235.2V240.8M632.5,236.9V240.8M635,234.5V240.8" stroke="#31b7ec" stroke-width="1.6" stroke-linecap="round"/></g><path d="M445.50,618.80 L443.10,619.50 L444.40,626.90 L447.70,628.30" fill="#27b4ea" fill-opacity="0.53" stroke="#27b4ea" stroke-width="1.1"/><path d="M447.70,618.20 L445.70,617.30 L452.65,617.30 L453.28,618.20" fill="#27b4ea" fill-opacity="0.5800000000000001" stroke="#27b4ea" stroke-width="1.1"/><path d="M445.70,617.30 L446.50,627.90 L447.70,628.90" fill="#27b4ea" fill-opacity="0.28" stroke="#27b4ea" stroke-width="1.1"/><rect x="447.70" y="618.20" width="9.00" height="11.30" rx="0.9" fill="#fff" stroke="#27b4ea" stroke-width="1.1"/><rect x="447.70" y="618.20" width="9.00" height="6.10" fill="#27b4ea" fill-opacity="0.55" stroke="none"/><path d="M447.70,624.30H456.70M450.67,620.69V629.50M453.64,620.69V629.50M447.70,620.69H456.70" stroke="#27b4ea" stroke-width="1.1"/><path d="M559.40,619.20 L557.00,619.90 L558.30,626.70 L561.60,628.10" fill="#27b4ea" fill-opacity="0.53" stroke="#27b4ea" stroke-width="1.1"/><path d="M561.60,618.60 L559.60,617.70 L566.17,617.70 L566.75,618.60" fill="#27b4ea" fill-opacity="0.5800000000000001" stroke="#27b4ea" stroke-width="1.1"/><path d="M559.60,617.70 L560.40,627.70 L561.60,628.70" fill="#27b4ea" fill-opacity="0.28" stroke="#27b4ea" stroke-width="1.1"/><rect x="561.60" y="618.60" width="8.30" height="10.70" rx="0.9" fill="#fff" stroke="#27b4ea" stroke-width="1.1"/><path d="M562,628.9L569.5,619" stroke="#27b4ea" stroke-width="1.2"/><path d="M674.20,619.80 L671.80,620.50 L673.10,625.90 L676.40,627.30" fill="#27b4ea" fill-opacity="0.53" stroke="#27b4ea" stroke-width="1.1"/><path d="M676.40,619.20 L674.40,618.30 L684.15,618.30 L685.14,619.20" fill="#27b4ea" fill-opacity="0.5800000000000001" stroke="#27b4ea" stroke-width="1.1"/><path d="M674.40,618.30 L675.20,626.90 L676.40,627.90" fill="#27b4ea" fill-opacity="0.28" stroke="#27b4ea" stroke-width="1.1"/><rect x="676.40" y="619.20" width="14.10" height="9.30" rx="0.9" fill="#fff" stroke="#27b4ea" stroke-width="1.1"/><rect x="676.4" y="623.2" width="14.1" height="1.9" fill="#27b4ea" fill-opacity="0.9" stroke="none"/><rect x="676.4" y="626.6" width="14.1" height="1.9" fill="#27b4ea" fill-opacity="0.6" stroke="none"/><path d="M678.6,621.4H683.6" stroke="#27b4ea" stroke-width="1"/><path d="M768.60,619.00 L766.20,619.70 L767.50,627.00 L770.80,628.40" fill="#27b4ea" fill-opacity="0.53" stroke="#27b4ea" stroke-width="1.1"/><path d="M770.80,618.40 L768.80,617.50 L775.69,617.50 L776.32,618.40" fill="#27b4ea" fill-opacity="0.5800000000000001" stroke="#27b4ea" stroke-width="1.1"/><path d="M768.80,617.50 L769.60,628.00 L770.80,629.00" fill="#27b4ea" fill-opacity="0.28" stroke="#27b4ea" stroke-width="1.1"/><rect x="770.80" y="618.40" width="8.90" height="11.20" rx="0.9" fill="#fff" stroke="#27b4ea" stroke-width="1.1"/><rect x="770.8" y="618.4" width="8.9" height="3.2" fill="#27b4ea" fill-opacity="0.5" stroke="none"/><rect x="770.8" y="627.4" width="8.9" height="2.2" fill="#27b4ea" fill-opacity="0.5" stroke="none"/><path d="M770.8,621.8H779.7M770.8,627.2H779.7" stroke="#27b4ea" stroke-width="1"/><path d="M257.40,663.80 L255.00,664.50 L256.30,671.10 L259.60,672.50" fill="#a8a8a8" fill-opacity="0.45" stroke="#a8a8a8" stroke-width="1.1"/><path d="M259.60,663.20 L257.60,662.30 L263.56,662.30 L264.06,663.20" fill="#a8a8a8" fill-opacity="0.5" stroke="#a8a8a8" stroke-width="1.1"/><path d="M257.60,662.30 L258.40,672.10 L259.60,673.10" fill="#a8a8a8" fill-opacity="0.2" stroke="#a8a8a8" stroke-width="1.1"/><rect x="259.60" y="663.20" width="7.20" height="10.50" rx="0.9" fill="#fff" stroke="#a8a8a8" stroke-width="1.1"/><rect x="259.60" y="663.20" width="7.20" height="5.67" fill="#a8a8a8" fill-opacity="0.55" stroke="none"/><path d="M259.60,668.87H266.80M261.98,665.51V673.70M264.35,665.51V673.70M259.60,665.51H266.80" stroke="#a8a8a8" stroke-width="1.1"/><path d="M265.4,668.8L270.2,663.4" stroke="#a8a8a8" stroke-width="2.2" stroke-linecap="butt"/><path d="M265.4,668.8L270.2,663.4" stroke="#f5f5f5" stroke-width="0.7"/></svg>
</div>
<nav class="user-menu" style="left:0;top:0;width:0;height:0">
<svg style="left:-80px;top:-125px;width:1200px;height:800px" viewBox="0 0 1200 800"><path d="M864.5,173.7 L882.3,161.8 L882.3,173.7" fill="#e8f0f7" stroke="#8fd4f2" stroke-width="1"/></svg>
<ul class="dd" style="left:722.20px;top:48.20px;width:141.80px;height:195.00px;background:#e8f0f7;border:1px solid #8fd4f2"></ul>
<div style="left:723.20px;top:49.20px;width:139.80px;height:23.40px;background:#ffe94e"></div>
<div style="left:785.60px;top:47.90px;width:16.20px;height:1.60px;background:#e8f0f7"></div>
<div style="left:723.70px;top:96.60px;width:139.20px;height:1.00px;background:#bfe4f6"></div>
<div style="left:723.70px;top:169.50px;width:139.20px;height:1.00px;background:#bfe4f6"></div>
<span style="left:732.61px;top:55.12px;font-size:12.14px;line-height:12.14px;font-weight:normal;color:#3c4a2a;transform:scaleX(0.8142)">Contul meu</span>
<span style="left:732.29px;top:79.01px;font-size:12.14px;line-height:12.14px;font-weight:normal;color:#3d4d5e;transform:scaleX(0.8334)">Datele firmei</span>
<span style="left:732.60px;top:104.40px;font-size:12.14px;line-height:12.14px;font-weight:normal;color:#3d4d5e;transform:scaleX(0.8230)">Configurări</span>
<span style="left:732.18px;top:127.71px;font-size:12.14px;line-height:12.14px;font-weight:normal;color:#3d4d5e;transform:scaleX(0.8445)">Integrări</span>
<span style="left:732.30px;top:151.90px;font-size:12.14px;line-height:12.14px;font-weight:normal;color:#3d4d5e;transform:scaleX(0.8237)">Facturi &amp; detalii abonament</span>
<span style="left:732.65px;top:177.01px;font-size:12.14px;line-height:12.14px;font-weight:normal;color:#3d4d5e;transform:scaleX(0.8262)">Schimbă contul</span>
<span style="left:733.10px;top:200.31px;font-size:12.14px;line-height:12.14px;font-weight:normal;color:#3d4d5e;transform:scaleX(0.8331)">Ajutor - Întrebări frecvente</span>
<span style="left:732.20px;top:224.21px;font-size:12.14px;line-height:12.14px;font-weight:normal;color:#3d4d5e;transform:scaleX(0.8258)">Ieșire</span>
<svg style="left:-80px;top:-125px;width:1200px;height:800px" viewBox="0 0 1200 800" fill="none" stroke-linecap="round" stroke-linejoin="round"><path d="M877.8,182.3a0.95,0.95 0 0 1 1.9,0V186.5L883.7,187.5Q884.9,187.8 884.8,189L884.3,193.1H878.4L874.2,188.6Q873.6,187.5 874.8,187.3Q875.8,187.2 877.8,189.3Z" fill="#3c3c3c" stroke="#3c3c3c" stroke-width="0.5"/></svg>
</nav>
</div>
<div class="ov">
<svg style="position:absolute;left:0;top:0" width="1200" height="800" viewBox="0 0 1200 800"><path d="M653,144.2 C661.5,139.6 676,135.3 696,134.8 C726,134.2 756,150 781.3,168.3 L778.6,152.6 C778,148.3 783.6,147 785.8,151 C791.5,161 795,175 795.6,184 C795.8,187.2 794,188.8 790,189.2 L759,192 C751.5,192.6 750.6,184.6 757,182.6 L773.6,178.4 C755,163 730,146 697,143.6 C680,142.6 665,146.4 656.2,148.4 C651.8,149.4 650.6,145.6 653,144.2 Z" fill="#ff5757"/></svg>
</div>
</body></html>
